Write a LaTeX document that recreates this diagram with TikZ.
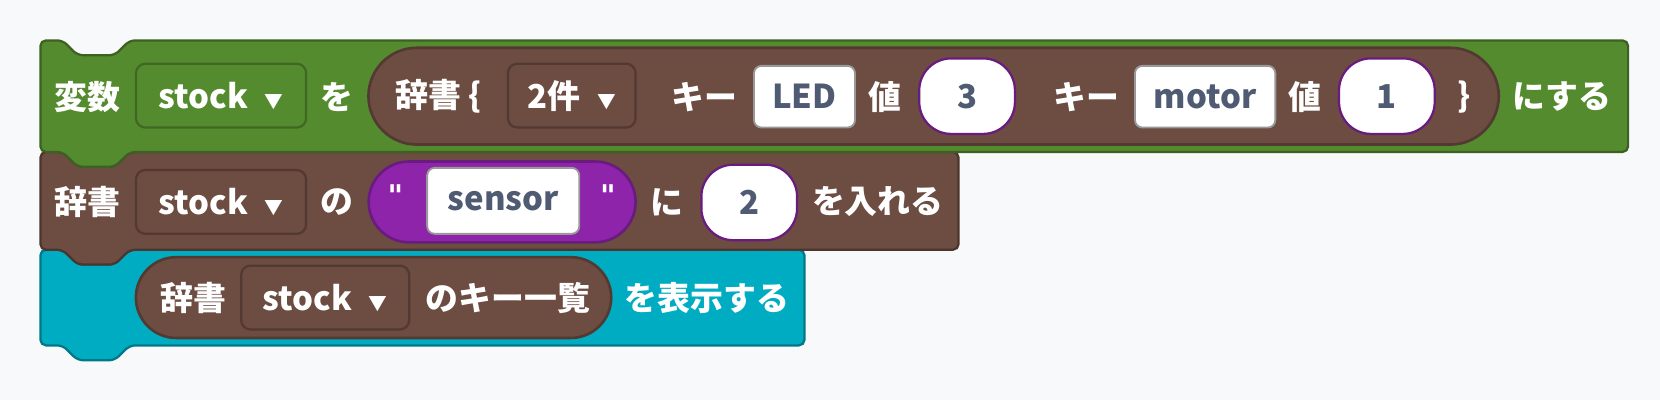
\documentclass[tikz,border=0pt]{standalone}
\usepackage{fontspec}
\setmainfont{Noto Sans CJK JP}
\newfontfamily\quotefont{DejaVu Sans}
\usepackage{tikz}
\usetikzlibrary{positioning,shapes.misc}

\definecolor{bg}{HTML}{F8F9FB}
\definecolor{vargreen}{HTML}{558B2F}
\definecolor{dictbrown}{HTML}{6D4C41}
\definecolor{strpurple}{HTML}{8E24AA}
\definecolor{stredge}{HTML}{6A1B80}
\definecolor{showteal}{HTML}{00ACC1}
\definecolor{valtext}{HTML}{4F5B72}

% stack block with notch on top and tab below
\newcommand{\stackblock}[5]{%
  \draw[fill=#5, draw=#5!70!black, rounded corners=1.5pt, line width=0.6pt]
    (#1,#2) -- (59,#2) -- (73,{#2+14}) -- (108,{#2+14}) -- (122,#2) -- (#3,#2)
    -- (#3,#4) -- (122,#4) -- (108,{#4+14}) -- (73,{#4+14}) -- (59,#4) -- (#1,#4) -- cycle;}
\newcommand{\ddarrow}{\hspace{0.5em}{\fontsize{5}{5}\selectfont▼}}

\begin{document}
\begin{tikzpicture}[
    x=0.01cm, y=-0.01cm,
    every node/.style={font=\fontsize{8.8}{9}\selectfont\bfseries},
    lbl/.style={text=white, inner sep=0pt},
    dropbox/.style={draw=#1!75!black, fill=#1, rounded corners=2.5pt, line width=0.6pt,
        minimum width=1.6cm, minimum height=0.6cm, text=white, inner sep=0pt},
    oval/.style={rounded rectangle, draw=#1!75!black, fill=#1, line width=0.7pt, inner sep=0pt},
    numoval/.style={rectangle, rounded corners=0.3cm, draw=stredge, fill=white, line width=0.6pt,
        minimum width=0.9cm, minimum height=0.71cm, text=valtext, inner sep=0pt},
    txtbox/.style={draw=black!40, fill=white, rounded corners=2pt, line width=0.5pt,
        minimum height=0.58cm, text=valtext, inner sep=0pt}
]
    \fill[bg] (0,0) rectangle (1562,376);
    \useasboundingbox (0,0) rectangle (1562,376);

    % Blocks
    \stackblock{38}{235}{757}{325}{showteal}
    \stackblock{38}{143}{902}{235}{dictbrown}
    \stackblock{38}{38}{1532}{143}{vargreen}

    % Set variable
    \node[lbl] (setvar) at (82,91) {変数};
    \node[dropbox=vargreen, minimum width=1.6cm] (setdd) at (208,90) {stock\ddarrow};
    \node[lbl] (seto) at (317,91) {を};
    \node[oval=dictbrown, minimum width=10.63cm, minimum height=0.91cm] (dictoval) at (878.5,90.5) {};
    \node[lbl] (dictlbl) at (413,91) {辞書 \{};
    \node[dropbox=dictbrown, minimum width=1.2cm] (countdd) at (538,90) {2件\ddarrow};
    \node[lbl] (key1) at (663,91) {キー};
    \node[txtbox, minimum width=0.95cm] (ledbox) at (757,91) {LED};
    \node[lbl] (val1) at (833,91) {値};
    \node[numoval] (num3) at (910,90.5) {3};
    \node[lbl] (key2) at (1022,91) {キー};
    \node[txtbox, minimum width=1.32cm] (motorbox) at (1134,91) {motor};
    \node[lbl] (val2) at (1228,91) {値};
    \node[numoval] (num1) at (1305,90.5) {1};
    \node[lbl] (closebr) at (1378,91) {\}};
    \node[lbl] (setsuru) at (1470,91) {にする};

    % Put item
    \node[lbl] (putdict) at (82,190) {辞書};
    \node[dropbox=dictbrown] (putdd) at (208,190) {stock\ddarrow};
    \node[lbl] (putno) at (317,190) {の};
    \node[oval=strpurple, minimum width=2.51cm, minimum height=0.76cm] (stroval) at (472.5,190) {};
    \node[lbl, font=\quotefont\fontsize{8}{9}\selectfont\bfseries] (qopen) at (372,184) {"};
    \node[txtbox, minimum width=1.43cm, minimum height=0.62cm] (sensorbox) at (473.5,189) {sensor};
    \node[lbl, font=\quotefont\fontsize{8}{9}\selectfont\bfseries] (qclose) at (572,184) {"};
    \node[lbl] (putni) at (628,190) {に};
    \node[numoval] (num2) at (705,190.5) {2};
    \node[lbl] (putin) at (826,190) {を入れる};

    % Show keys
    \node[oval=dictbrown, minimum width=4.47cm, minimum height=0.76cm] (keysoval) at (351.5,280) {};
    \node[lbl] (keysdict) at (182,280) {辞書};
    \node[dropbox=dictbrown, minimum width=1.58cm] (keysdd) at (306,280) {stock\ddarrow};
    \node[lbl] (keyslist) at (478,280) {のキー一覧};
    \node[lbl] (showlbl) at (665,280) {を表示する};
\end{tikzpicture}
\end{document}
